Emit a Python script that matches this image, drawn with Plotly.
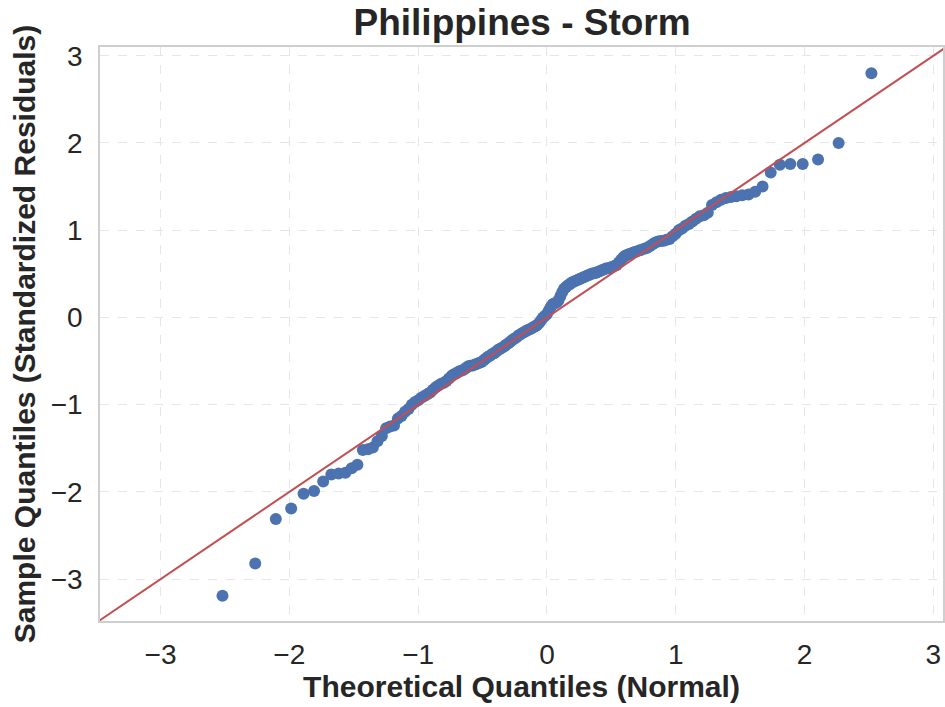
import statistics
import plotly.graph_objects as go

# Sorted standardized residuals (sample quantiles)
sample_quantiles = [
    -3.19, -2.82, -2.31, -2.19, -2.02, -1.99, -1.88, -1.80, -1.79, -1.78,
    -1.73, -1.69, -1.52, -1.51, -1.49, -1.42, -1.36, -1.27, -1.25, -1.24,
    -1.16, -1.13, -1.08, -1.05, -1.00, -0.97, -0.95, -0.92, -0.90, -0.88,
    -0.86, -0.83, -0.80, -0.78, -0.76, -0.75, -0.73, -0.70, -0.67, -0.65,
    -0.64, -0.62, -0.61, -0.60, -0.58, -0.56, -0.555, -0.55, -0.54, -0.53,
    -0.52, -0.51, -0.49, -0.47, -0.45, -0.44, -0.42, -0.41, -0.39, -0.37,
    -0.36, -0.345, -0.33, -0.31, -0.295, -0.28, -0.26, -0.245, -0.23, -0.21,
    -0.195, -0.18, -0.17, -0.155, -0.145, -0.135, -0.125, -0.11, -0.10, -0.085,
    -0.06, -0.03, 0.00, 0.02, 0.04, 0.08, 0.12, 0.15, 0.16, 0.17,
    0.19, 0.24, 0.29, 0.33, 0.35, 0.37, 0.38, 0.40, 0.41, 0.42,
    0.43, 0.44, 0.45, 0.46, 0.47, 0.48, 0.49, 0.50, 0.505, 0.51,
    0.52, 0.53, 0.54, 0.55, 0.56, 0.565, 0.57, 0.58, 0.59, 0.60,
    0.63, 0.66, 0.69, 0.71, 0.72, 0.73, 0.74, 0.75, 0.76, 0.77,
    0.78, 0.79, 0.80, 0.82, 0.84, 0.86, 0.87, 0.875, 0.88, 0.89,
    0.90, 0.93, 0.96, 1.00, 1.02, 1.05, 1.07, 1.10, 1.13, 1.16,
    1.17, 1.20, 1.29, 1.32, 1.35, 1.37, 1.38, 1.39, 1.40, 1.41,
    1.44, 1.50, 1.66, 1.75, 1.76, 1.76, 1.81, 2.00, 2.80,
]

tick_values = [-3, -2, -1, 0, 1, 2, 3]
x_range = [-3.47, 3.075]
y_range = [-3.48, 3.10]

# Theoretical normal quantiles at plotting positions i / (n + 1)
n = len(sample_quantiles)
normal = statistics.NormalDist()
theoretical_quantiles = [normal.inv_cdf(i / (n + 1)) for i in range(1, n + 1)]

# 45-degree reference line spanning the visible range
ref_x = [-5, 5]
ref_y = [v for v in ref_x]

BLUE = "#4C72B0"
RED = "#C44E52"
TEXT = "#262626"
GRID = "#e6e6e6"
SPINE = "#cfcfcf"

fig = go.Figure()
fig.add_trace(go.Scatter(
    x=theoretical_quantiles, y=sample_quantiles, mode="markers",
    marker=dict(color=BLUE, size=12, line=dict(width=0)),
    cliponaxis=True,
))
fig.add_trace(go.Scatter(
    x=ref_x, y=ref_y, mode="lines",
    line=dict(color=RED, width=2),
))

axis_common = dict(
    tickvals=tick_values,
    tickfont=dict(size=28, color=TEXT),
    showgrid=True, gridcolor=GRID, griddash="dash", gridwidth=1,
    showline=True, linecolor=SPINE, linewidth=1.5, mirror=True,
    zeroline=False, ticks="",
)

fig.update_xaxes(
    range=x_range,
    title=dict(text="<b>Theoretical Quantiles (Normal)</b>",
               font=dict(size=30, color=TEXT), standoff=4),
    ticklabelstandoff=8,
    **axis_common,
)
fig.update_yaxes(
    range=y_range,
    title=dict(text="<b>Sample Quantiles (Standardized Residuals)</b>",
               font=dict(size=30, color=TEXT), standoff=6),
    ticklabelstandoff=10,
    **axis_common,
)

fig.update_layout(
    width=945, height=707,
    margin=dict(l=100, r=0, t=47, b=86),
    plot_bgcolor="white", paper_bgcolor="white",
    showlegend=False,
    font=dict(family="Liberation Sans, Arial, sans-serif", color=TEXT),
    title=dict(text="<b>Philippines - Storm</b>",
               font=dict(size=37, color=TEXT),
               x=0.5525, xanchor="center",
               y=1 - 22 / 707, yanchor="middle", yref="container"),
)

fig.write_html("out.html")
